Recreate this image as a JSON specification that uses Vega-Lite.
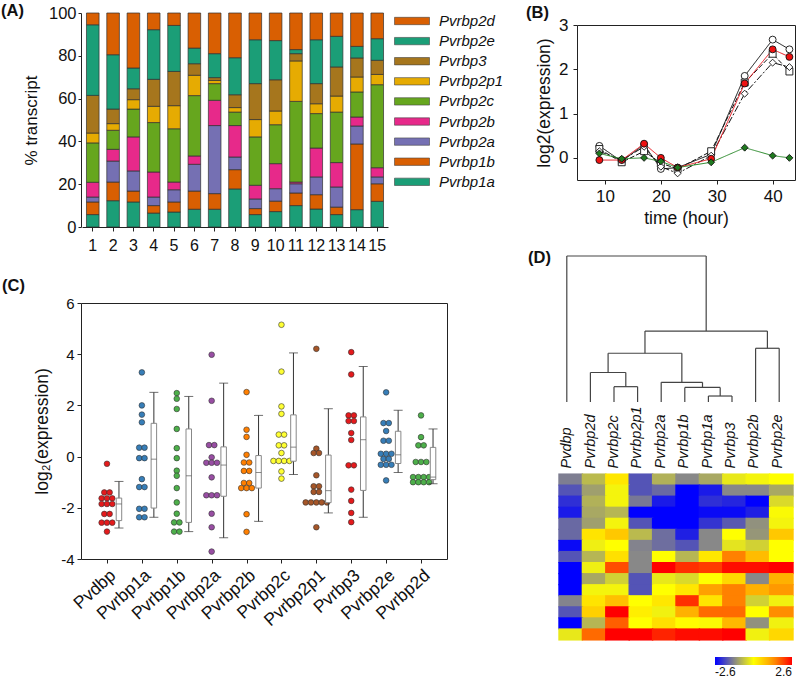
{
"$schema": "https://vega.github.io/schema/vega-lite/v6.json",
"width": 800, "height": 686, "autosize": {"type": "none"}, "padding": 0, "background": "white",
"datasets": {
"A": [
{"s":1,"g":"Pvrbp1a","p":5.8},{"s":1,"g":"Pvrbp1b","p":5.9},{"s":1,"g":"Pvrbp2a","p":2.3},{"s":1,"g":"Pvrbp2b","p":6.9},{"s":1,"g":"Pvrbp2c","p":18.4},{"s":1,"g":"Pvrbp2p1","p":4.6},{"s":1,"g":"Pvrbp3","p":17.6},{"s":1,"g":"Pvrbp2e","p":33.0},{"s":1,"g":"Pvrbp2d","p":5.5},
{"s":2,"g":"Pvrbp1a","p":12.3},{"s":2,"g":"Pvrbp1b","p":8.7},{"s":2,"g":"Pvrbp2a","p":9.8},{"s":2,"g":"Pvrbp2b","p":5.5},{"s":2,"g":"Pvrbp2c","p":8.9},{"s":2,"g":"Pvrbp2p1","p":3.1},{"s":2,"g":"Pvrbp3","p":6.8},{"s":2,"g":"Pvrbp2e","p":25.4},{"s":2,"g":"Pvrbp2d","p":19.5},
{"s":3,"g":"Pvrbp1a","p":11.7},{"s":3,"g":"Pvrbp1b","p":5.1},{"s":3,"g":"Pvrbp2a","p":9.4},{"s":3,"g":"Pvrbp2b","p":15.9},{"s":3,"g":"Pvrbp2c","p":13.0},{"s":3,"g":"Pvrbp2p1","p":4.4},{"s":3,"g":"Pvrbp3","p":5.1},{"s":3,"g":"Pvrbp2e","p":9.7},{"s":3,"g":"Pvrbp2d","p":25.7},
{"s":4,"g":"Pvrbp1a","p":6.5},{"s":4,"g":"Pvrbp1b","p":3.5},{"s":4,"g":"Pvrbp2a","p":4.0},{"s":4,"g":"Pvrbp2b","p":11.7},{"s":4,"g":"Pvrbp2c","p":23.1},{"s":4,"g":"Pvrbp2p1","p":7.6},{"s":4,"g":"Pvrbp3","p":12.6},{"s":4,"g":"Pvrbp2e","p":23.2},{"s":4,"g":"Pvrbp2d","p":7.8},
{"s":5,"g":"Pvrbp1a","p":7.0},{"s":5,"g":"Pvrbp1b","p":4.7},{"s":5,"g":"Pvrbp2a","p":5.7},{"s":5,"g":"Pvrbp2b","p":3.6},{"s":5,"g":"Pvrbp2c","p":24.9},{"s":5,"g":"Pvrbp2p1","p":10.8},{"s":5,"g":"Pvrbp3","p":16.0},{"s":5,"g":"Pvrbp2e","p":21.5},{"s":5,"g":"Pvrbp2d","p":5.8},
{"s":6,"g":"Pvrbp1a","p":8.3},{"s":6,"g":"Pvrbp1b","p":8.5},{"s":6,"g":"Pvrbp2a","p":12.5},{"s":6,"g":"Pvrbp2b","p":3.9},{"s":6,"g":"Pvrbp2c","p":28.2},{"s":6,"g":"Pvrbp2p1","p":9.5},{"s":6,"g":"Pvrbp3","p":5.4},{"s":6,"g":"Pvrbp2e","p":7.3},{"s":6,"g":"Pvrbp2d","p":16.4},
{"s":7,"g":"Pvrbp1a","p":8.3},{"s":7,"g":"Pvrbp1b","p":7.3},{"s":7,"g":"Pvrbp2a","p":31.8},{"s":7,"g":"Pvrbp2b","p":11.8},{"s":7,"g":"Pvrbp2c","p":7.8},{"s":7,"g":"Pvrbp2p1","p":1.5},{"s":7,"g":"Pvrbp3","p":1.3},{"s":7,"g":"Pvrbp2e","p":11.2},{"s":7,"g":"Pvrbp2d","p":19.0},
{"s":8,"g":"Pvrbp1a","p":17.8},{"s":8,"g":"Pvrbp1b","p":9.0},{"s":8,"g":"Pvrbp2a","p":5.9},{"s":8,"g":"Pvrbp2b","p":14.7},{"s":8,"g":"Pvrbp2c","p":6.3},{"s":8,"g":"Pvrbp2p1","p":2.1},{"s":8,"g":"Pvrbp3","p":6.0},{"s":8,"g":"Pvrbp2e","p":17.3},{"s":8,"g":"Pvrbp2d","p":20.9},
{"s":9,"g":"Pvrbp1a","p":5.8},{"s":9,"g":"Pvrbp1b","p":2.8},{"s":9,"g":"Pvrbp2a","p":4.5},{"s":9,"g":"Pvrbp2b","p":6.4},{"s":9,"g":"Pvrbp2c","p":22.6},{"s":9,"g":"Pvrbp2p1","p":8.1},{"s":9,"g":"Pvrbp3","p":16.8},{"s":9,"g":"Pvrbp2e","p":20.5},{"s":9,"g":"Pvrbp2d","p":12.5},
{"s":10,"g":"Pvrbp1a","p":7.2},{"s":10,"g":"Pvrbp1b","p":4.9},{"s":10,"g":"Pvrbp2a","p":5.8},{"s":10,"g":"Pvrbp2b","p":11.7},{"s":10,"g":"Pvrbp2c","p":18.2},{"s":10,"g":"Pvrbp2p1","p":6.4},{"s":10,"g":"Pvrbp3","p":14.6},{"s":10,"g":"Pvrbp2e","p":18.3},{"s":10,"g":"Pvrbp2d","p":12.9},
{"s":11,"g":"Pvrbp1a","p":10.0},{"s":11,"g":"Pvrbp1b","p":5.9},{"s":11,"g":"Pvrbp2a","p":4.3},{"s":11,"g":"Pvrbp2b","p":0.8},{"s":11,"g":"Pvrbp2c","p":37.7},{"s":11,"g":"Pvrbp2p1","p":18.9},{"s":11,"g":"Pvrbp3","p":3.4},{"s":11,"g":"Pvrbp2e","p":1.9},{"s":11,"g":"Pvrbp2d","p":17.1},
{"s":12,"g":"Pvrbp1a","p":8.4},{"s":12,"g":"Pvrbp1b","p":6.7},{"s":12,"g":"Pvrbp2a","p":8.3},{"s":12,"g":"Pvrbp2b","p":13.5},{"s":12,"g":"Pvrbp2c","p":16.1},{"s":12,"g":"Pvrbp2p1","p":4.6},{"s":12,"g":"Pvrbp3","p":9.4},{"s":12,"g":"Pvrbp2e","p":20.5},{"s":12,"g":"Pvrbp2d","p":12.5},
{"s":13,"g":"Pvrbp1a","p":5.8},{"s":13,"g":"Pvrbp1b","p":3.5},{"s":13,"g":"Pvrbp2a","p":9.4},{"s":13,"g":"Pvrbp2b","p":11.4},{"s":13,"g":"Pvrbp2c","p":23.6},{"s":13,"g":"Pvrbp2p1","p":7.5},{"s":13,"g":"Pvrbp3","p":13.6},{"s":13,"g":"Pvrbp2e","p":14.3},{"s":13,"g":"Pvrbp2d","p":10.9},
{"s":14,"g":"Pvrbp1a","p":8.1},{"s":14,"g":"Pvrbp1b","p":30.7},{"s":14,"g":"Pvrbp2a","p":8.4},{"s":14,"g":"Pvrbp2b","p":4.2},{"s":14,"g":"Pvrbp2c","p":11.7},{"s":14,"g":"Pvrbp2p1","p":7.0},{"s":14,"g":"Pvrbp3","p":8.9},{"s":14,"g":"Pvrbp2e","p":5.4},{"s":14,"g":"Pvrbp2d","p":15.6},
{"s":15,"g":"Pvrbp1a","p":12.0},{"s":15,"g":"Pvrbp1b","p":8.2},{"s":15,"g":"Pvrbp2a","p":3.2},{"s":15,"g":"Pvrbp2b","p":4.3},{"s":15,"g":"Pvrbp2c","p":38.8},{"s":15,"g":"Pvrbp2p1","p":4.8},{"s":15,"g":"Pvrbp3","p":6.6},{"s":15,"g":"Pvrbp2e","p":10.1},{"s":15,"g":"Pvrbp2d","p":12.0}
],
"B": [
{"s":"s1","t":9,"v":0.27},{"s":"s1","t":13,"v":-0.08},{"s":"s1","t":17,"v":0.30},{"s":"s1","t":20,"v":-0.25},{"s":"s1","t":23,"v":-0.22},{"s":"s1","t":29,"v":0.08},{"s":"s1","t":35,"v":1.85},{"s":"s1","t":40,"v":2.67},{"s":"s1","t":43,"v":2.45},
{"s":"s2","t":9,"v":0.20},{"s":"s2","t":13,"v":-0.10},{"s":"s2","t":17,"v":0.15},{"s":"s2","t":20,"v":-0.12},{"s":"s2","t":23,"v":-0.25},{"s":"s2","t":29,"v":0.15},{"s":"s2","t":35,"v":1.70},{"s":"s2","t":40,"v":2.35},{"s":"s2","t":43,"v":1.95},
{"s":"s3","t":9,"v":0.15},{"s":"s3","t":13,"v":-0.05},{"s":"s3","t":17,"v":0.25},{"s":"s3","t":20,"v":-0.20},{"s":"s3","t":23,"v":-0.35},{"s":"s3","t":29,"v":0.05},{"s":"s3","t":35,"v":1.45},{"s":"s3","t":40,"v":2.15},{"s":"s3","t":43,"v":2.05},
{"s":"s4","t":9,"v":-0.05},{"s":"s4","t":13,"v":-0.05},{"s":"s4","t":17,"v":0.32},{"s":"s4","t":20,"v":0.00},{"s":"s4","t":23,"v":-0.22},{"s":"s4","t":29,"v":-0.02},{"s":"s4","t":35,"v":1.68},{"s":"s4","t":40,"v":2.45},{"s":"s4","t":43,"v":2.28},
{"s":"s5","t":9,"v":0.10},{"s":"s5","t":13,"v":-0.02},{"s":"s5","t":17,"v":0.00},{"s":"s5","t":20,"v":-0.08},{"s":"s5","t":23,"v":-0.22},{"s":"s5","t":29,"v":-0.10},{"s":"s5","t":35,"v":0.23},{"s":"s5","t":40,"v":0.05},{"s":"s5","t":43,"v":0.00}
],
"Cdots": [
{"g":"Pvdbp","v":-0.28},{"g":"Pvdbp","v":-1.4},{"g":"Pvdbp","v":-1.4},{"g":"Pvdbp","v":-1.63},{"g":"Pvdbp","v":-1.63},{"g":"Pvdbp","v":-1.63},{"g":"Pvdbp","v":-1.85},{"g":"Pvdbp","v":-1.85},{"g":"Pvdbp","v":-1.85},{"g":"Pvdbp","v":-2.24},{"g":"Pvdbp","v":-2.24},{"g":"Pvdbp","v":-2.58},{"g":"Pvdbp","v":-2.58},{"g":"Pvdbp","v":-2.58},{"g":"Pvdbp","v":-2.93},
{"g":"Pvrbp1a","v":3.29},{"g":"Pvrbp1a","v":2.0},{"g":"Pvrbp1a","v":1.64},{"g":"Pvrbp1a","v":1.34},{"g":"Pvrbp1a","v":0.35},{"g":"Pvrbp1a","v":0.35},{"g":"Pvrbp1a","v":-0.06},{"g":"Pvrbp1a","v":-0.06},{"g":"Pvrbp1a","v":-0.88},{"g":"Pvrbp1a","v":-1.19},{"g":"Pvrbp1a","v":-1.19},{"g":"Pvrbp1a","v":-2.04},{"g":"Pvrbp1a","v":-2.04},{"g":"Pvrbp1a","v":-2.37},{"g":"Pvrbp1a","v":-2.37},
{"g":"Pvrbp1b","v":2.48},{"g":"Pvrbp1b","v":2.26},{"g":"Pvrbp1b","v":1.86},{"g":"Pvrbp1b","v":1.08},{"g":"Pvrbp1b","v":0.33},{"g":"Pvrbp1b","v":-0.06},{"g":"Pvrbp1b","v":-0.55},{"g":"Pvrbp1b","v":-0.75},{"g":"Pvrbp1b","v":-1.23},{"g":"Pvrbp1b","v":-1.79},{"g":"Pvrbp1b","v":-2.23},{"g":"Pvrbp1b","v":-2.57},{"g":"Pvrbp1b","v":-2.57},{"g":"Pvrbp1b","v":-2.93},{"g":"Pvrbp1b","v":-2.93},
{"g":"Pvrbp2a","v":3.98},{"g":"Pvrbp2a","v":2.18},{"g":"Pvrbp2a","v":0.45},{"g":"Pvrbp2a","v":0.45},{"g":"Pvrbp2a","v":-0.03},{"g":"Pvrbp2a","v":-0.24},{"g":"Pvrbp2a","v":-0.24},{"g":"Pvrbp2a","v":-0.24},{"g":"Pvrbp2a","v":-0.81},{"g":"Pvrbp2a","v":-1.51},{"g":"Pvrbp2a","v":-1.51},{"g":"Pvrbp2a","v":-1.51},{"g":"Pvrbp2a","v":-2.23},{"g":"Pvrbp2a","v":-2.76},{"g":"Pvrbp2a","v":-3.71},
{"g":"Pvrbp2b","v":2.52},{"g":"Pvrbp2b","v":1.05},{"g":"Pvrbp2b","v":0.77},{"g":"Pvrbp2b","v":0.07},{"g":"Pvrbp2b","v":-0.23},{"g":"Pvrbp2b","v":-0.23},{"g":"Pvrbp2b","v":-0.56},{"g":"Pvrbp2b","v":-0.56},{"g":"Pvrbp2b","v":-1.03},{"g":"Pvrbp2b","v":-1.03},{"g":"Pvrbp2b","v":-1.23},{"g":"Pvrbp2b","v":-1.23},{"g":"Pvrbp2b","v":-1.23},{"g":"Pvrbp2b","v":-2.25},{"g":"Pvrbp2b","v":-2.94},
{"g":"Pvrbp2c","v":5.15},{"g":"Pvrbp2c","v":3.32},{"g":"Pvrbp2c","v":1.96},{"g":"Pvrbp2c","v":1.67},{"g":"Pvrbp2c","v":0.86},{"g":"Pvrbp2c","v":0.86},{"g":"Pvrbp2c","v":0.44},{"g":"Pvrbp2c","v":0.44},{"g":"Pvrbp2c","v":0.14},{"g":"Pvrbp2c","v":-0.17},{"g":"Pvrbp2c","v":-0.17},{"g":"Pvrbp2c","v":-0.17},{"g":"Pvrbp2c","v":-0.17},{"g":"Pvrbp2c","v":-0.58},{"g":"Pvrbp2c","v":-0.86},
{"g":"Pvrbp2p1","v":4.21},{"g":"Pvrbp2p1","v":0.31},{"g":"Pvrbp2p1","v":0.14},{"g":"Pvrbp2p1","v":0.14},{"g":"Pvrbp2p1","v":-0.73},{"g":"Pvrbp2p1","v":-1.16},{"g":"Pvrbp2p1","v":-1.16},{"g":"Pvrbp2p1","v":-1.38},{"g":"Pvrbp2p1","v":-1.38},{"g":"Pvrbp2p1","v":-1.79},{"g":"Pvrbp2p1","v":-1.79},{"g":"Pvrbp2p1","v":-1.79},{"g":"Pvrbp2p1","v":-1.79},{"g":"Pvrbp2p1","v":-1.79},{"g":"Pvrbp2p1","v":-2.76},
{"g":"Pvrbp3","v":4.08},{"g":"Pvrbp3","v":3.21},{"g":"Pvrbp3","v":1.61},{"g":"Pvrbp3","v":1.61},{"g":"Pvrbp3","v":1.39},{"g":"Pvrbp3","v":1.39},{"g":"Pvrbp3","v":0.92},{"g":"Pvrbp3","v":0.65},{"g":"Pvrbp3","v":-0.34},{"g":"Pvrbp3","v":-0.34},{"g":"Pvrbp3","v":-1.29},{"g":"Pvrbp3","v":-1.73},{"g":"Pvrbp3","v":-2.2},{"g":"Pvrbp3","v":-2.56},
{"g":"Pvrbp2e","v":2.51},{"g":"Pvrbp2e","v":1.31},{"g":"Pvrbp2e","v":1.31},{"g":"Pvrbp2e","v":1.0},{"g":"Pvrbp2e","v":0.62},{"g":"Pvrbp2e","v":0.62},{"g":"Pvrbp2e","v":0.11},{"g":"Pvrbp2e","v":0.11},{"g":"Pvrbp2e","v":0.11},{"g":"Pvrbp2e","v":-0.09},{"g":"Pvrbp2e","v":-0.09},{"g":"Pvrbp2e","v":-0.32},{"g":"Pvrbp2e","v":-0.32},{"g":"Pvrbp2e","v":-0.32},{"g":"Pvrbp2e","v":-0.93},
{"g":"Pvrbp2d","v":1.61},{"g":"Pvrbp2d","v":0.76},{"g":"Pvrbp2d","v":0.44},{"g":"Pvrbp2d","v":0.44},{"g":"Pvrbp2d","v":-0.21},{"g":"Pvrbp2d","v":-0.21},{"g":"Pvrbp2d","v":-0.21},{"g":"Pvrbp2d","v":-0.8},{"g":"Pvrbp2d","v":-0.8},{"g":"Pvrbp2d","v":-0.8},{"g":"Pvrbp2d","v":-0.8},{"g":"Pvrbp2d","v":-1.0},{"g":"Pvrbp2d","v":-1.0},{"g":"Pvrbp2d","v":-1.0},{"g":"Pvrbp2d","v":-1.0}
],
"Cbox": [
{"g":"Pvdbp","lo":-2.79,"q1":-2.5,"med":-1.85,"q3":-1.62,"hi":-0.97},
{"g":"Pvrbp1a","lo":-2.37,"q1":-2.01,"med":-0.10,"q3":1.30,"hi":2.51},
{"g":"Pvrbp1b","lo":-2.93,"q1":-2.57,"med":-0.75,"q3":1.08,"hi":2.35},
{"g":"Pvrbp2a","lo":-3.17,"q1":-1.55,"med":-0.33,"q3":0.38,"hi":2.87},
{"g":"Pvrbp2b","lo":-2.53,"q1":-1.23,"med":-0.62,"q3":0.04,"hi":1.61},
{"g":"Pvrbp2c","lo":-0.70,"q1":-0.18,"med":0.37,"q3":1.63,"hi":4.05},
{"g":"Pvrbp2p1","lo":-2.2,"q1":-1.8,"med":-1.33,"q3":0.06,"hi":1.87},
{"g":"Pvrbp3","lo":-2.37,"q1":-1.32,"med":0.66,"q3":1.55,"hi":3.52},
{"g":"Pvrbp2e","lo":-0.62,"q1":-0.27,"med":0.07,"q3":0.99,"hi":1.81},
{"g":"Pvrbp2d","lo":-1.06,"q1":-0.9,"med":-0.8,"q3":0.36,"hi":1.08}
],
"dend": [
{"n":"H","xl":6,"xr":7,"h":0.041,"hl":0,"hr":0},
{"n":"G","xl":5,"xr":6.5,"h":0.10,"hl":0,"hr":0.041},
{"n":"F","xl":4,"xr":5.75,"h":0.135,"hl":0,"hr":0.10},
{"n":"E","xl":2,"xr":3,"h":0.105,"hl":0,"hr":0},
{"n":"D","xl":1,"xr":2.5,"h":0.202,"hl":0,"hr":0.105},
{"n":"C","xl":1.75,"xr":4.875,"h":0.334,"hl":0.202,"hr":0.135},
{"n":"B","xl":8,"xr":9,"h":0.368,"hl":0,"hr":0},
{"n":"A","xl":3.3125,"xr":8.5,"h":0.486,"hl":0.334,"hr":0.368},
{"n":"R","xl":0,"xr":5.906,"h":1.0,"hl":0,"hr":0.486}
],
"heat": [
{"r":1,"g":"Pvdbp","v":-1.4},{"r":1,"g":"Pvrbp2d","v":-0.75},{"r":1,"g":"Pvrbp2c","v":0.3},{"r":1,"g":"Pvrbp2p1","v":-1.8},{"r":1,"g":"Pvrbp2a","v":-0.85},{"r":1,"g":"Pvrbp1b","v":-1.3},{"r":1,"g":"Pvrbp1a","v":-0.95},{"r":1,"g":"Pvrbp3","v":-0.25},{"r":1,"g":"Pvrbp2b","v":-0.12},{"r":1,"g":"Pvrbp2e","v":0.0},
{"r":2,"g":"Pvdbp","v":-1.8},{"r":2,"g":"Pvrbp2d","v":-1.05},{"r":2,"g":"Pvrbp2c","v":-0.12},{"r":2,"g":"Pvrbp2p1","v":-1.8},{"r":2,"g":"Pvrbp2a","v":-1.6},{"r":2,"g":"Pvrbp1b","v":-2.6},{"r":2,"g":"Pvrbp1a","v":-2.35},{"r":2,"g":"Pvrbp3","v":-1.3},{"r":2,"g":"Pvrbp2b","v":-1.3},{"r":2,"g":"Pvrbp2e","v":-0.95},
{"r":3,"g":"Pvdbp","v":-2.15},{"r":3,"g":"Pvrbp2d","v":-0.85},{"r":3,"g":"Pvrbp2c","v":-0.12},{"r":3,"g":"Pvrbp2p1","v":-1.45},{"r":3,"g":"Pvrbp2a","v":-2.35},{"r":3,"g":"Pvrbp1b","v":-2.6},{"r":3,"g":"Pvrbp1a","v":-2.15},{"r":3,"g":"Pvrbp3","v":-2.25},{"r":3,"g":"Pvrbp2b","v":-2.6},{"r":3,"g":"Pvrbp2e","v":-0.4},
{"r":4,"g":"Pvdbp","v":-2.35},{"r":4,"g":"Pvrbp2d","v":-0.95},{"r":4,"g":"Pvrbp2c","v":-0.8},{"r":4,"g":"Pvrbp2p1","v":-2.6},{"r":4,"g":"Pvrbp2a","v":-2.6},{"r":4,"g":"Pvrbp1b","v":-2.6},{"r":4,"g":"Pvrbp1a","v":-2.5},{"r":4,"g":"Pvrbp3","v":-2.5},{"r":4,"g":"Pvrbp2b","v":-2.3},{"r":4,"g":"Pvrbp2e","v":-0.05},
{"r":5,"g":"Pvdbp","v":-1.6},{"r":5,"g":"Pvrbp2d","v":-1.05},{"r":5,"g":"Pvrbp2c","v":-0.12},{"r":5,"g":"Pvrbp2p1","v":-1.8},{"r":5,"g":"Pvrbp2a","v":-2.6},{"r":5,"g":"Pvrbp1b","v":-2.6},{"r":5,"g":"Pvrbp1a","v":-2.1},{"r":5,"g":"Pvrbp3","v":-1.75},{"r":5,"g":"Pvrbp2b","v":-1.2},{"r":5,"g":"Pvrbp2e","v":-0.12},
{"r":6,"g":"Pvdbp","v":-1.6},{"r":6,"g":"Pvrbp2d","v":0.35},{"r":6,"g":"Pvrbp2c","v":0.7},{"r":6,"g":"Pvrbp2p1","v":-0.75},{"r":6,"g":"Pvrbp2a","v":-1.55},{"r":6,"g":"Pvrbp1b","v":-2.3},{"r":6,"g":"Pvrbp1a","v":-1.3},{"r":6,"g":"Pvrbp3","v":0.0},{"r":6,"g":"Pvrbp2b","v":-1.15},{"r":6,"g":"Pvrbp2e","v":0.7},
{"r":7,"g":"Pvdbp","v":-2.5},{"r":7,"g":"Pvrbp2d","v":-0.18},{"r":7,"g":"Pvrbp2c","v":0.0},{"r":7,"g":"Pvrbp2p1","v":-1.35},{"r":7,"g":"Pvrbp2a","v":-1.55},{"r":7,"g":"Pvrbp1b","v":-1.8},{"r":7,"g":"Pvrbp1a","v":-1.3},{"r":7,"g":"Pvrbp3","v":-0.3},{"r":7,"g":"Pvrbp2b","v":-0.5},{"r":7,"g":"Pvrbp2e","v":0.0},
{"r":8,"g":"Pvdbp","v":-1.8},{"r":8,"g":"Pvrbp2d","v":-0.8},{"r":8,"g":"Pvrbp2c","v":0.4},{"r":8,"g":"Pvrbp2p1","v":-1.3},{"r":8,"g":"Pvrbp2a","v":0.0},{"r":8,"g":"Pvrbp1b","v":-0.8},{"r":8,"g":"Pvrbp1a","v":0.3},{"r":8,"g":"Pvrbp3","v":1.5},{"r":8,"g":"Pvrbp2b","v":0.85},{"r":8,"g":"Pvrbp2e","v":0.0},
{"r":9,"g":"Pvdbp","v":-2.6},{"r":9,"g":"Pvrbp2d","v":-0.18},{"r":9,"g":"Pvrbp2c","v":1.95},{"r":9,"g":"Pvrbp2p1","v":-1.3},{"r":9,"g":"Pvrbp2a","v":2.6},{"r":9,"g":"Pvrbp1b","v":2.2},{"r":9,"g":"Pvrbp1a","v":2.1},{"r":9,"g":"Pvrbp3","v":2.5},{"r":9,"g":"Pvrbp2b","v":2.5},{"r":9,"g":"Pvrbp2e","v":2.6},
{"r":10,"g":"Pvdbp","v":-2.6},{"r":10,"g":"Pvrbp2d","v":-0.95},{"r":10,"g":"Pvrbp2c","v":-0.5},{"r":10,"g":"Pvrbp2p1","v":-1.8},{"r":10,"g":"Pvrbp2a","v":-0.25},{"r":10,"g":"Pvrbp1b","v":-0.4},{"r":10,"g":"Pvrbp1a","v":0.0},{"r":10,"g":"Pvrbp3","v":0.5},{"r":10,"g":"Pvrbp2b","v":-1.3},{"r":10,"g":"Pvrbp2e","v":1.0},
{"r":11,"g":"Pvdbp","v":-2.6},{"r":11,"g":"Pvrbp2d","v":-0.12},{"r":11,"g":"Pvrbp2c","v":-0.12},{"r":11,"g":"Pvrbp2p1","v":-1.8},{"r":11,"g":"Pvrbp2a","v":0.0},{"r":11,"g":"Pvrbp1b","v":0.3},{"r":11,"g":"Pvrbp1a","v":1.2},{"r":11,"g":"Pvrbp3","v":1.5},{"r":11,"g":"Pvrbp2b","v":1.0},{"r":11,"g":"Pvrbp2e","v":1.3},
{"r":12,"g":"Pvdbp","v":-1.35},{"r":12,"g":"Pvrbp2d","v":0.35},{"r":12,"g":"Pvrbp2c","v":0.8},{"r":12,"g":"Pvrbp2p1","v":0.0},{"r":12,"g":"Pvrbp2a","v":0.3},{"r":12,"g":"Pvrbp1b","v":2.2},{"r":12,"g":"Pvrbp1a","v":0.35},{"r":12,"g":"Pvrbp3","v":1.5},{"r":12,"g":"Pvrbp2b","v":-0.5},{"r":12,"g":"Pvrbp2e","v":-0.15},
{"r":13,"g":"Pvdbp","v":-1.8},{"r":13,"g":"Pvrbp2d","v":0.6},{"r":13,"g":"Pvrbp2c","v":2.6},{"r":13,"g":"Pvrbp2p1","v":0.2},{"r":13,"g":"Pvrbp2a","v":-0.15},{"r":13,"g":"Pvrbp1b","v":1.0},{"r":13,"g":"Pvrbp1a","v":1.7},{"r":13,"g":"Pvrbp3","v":1.7},{"r":13,"g":"Pvrbp2b","v":0.0},{"r":13,"g":"Pvrbp2e","v":1.4},
{"r":14,"g":"Pvdbp","v":-2.6},{"r":14,"g":"Pvrbp2d","v":-0.8},{"r":14,"g":"Pvrbp2c","v":1.8},{"r":14,"g":"Pvrbp2p1","v":0.0},{"r":14,"g":"Pvrbp2a","v":0.4},{"r":14,"g":"Pvrbp1b","v":0.05},{"r":14,"g":"Pvrbp1a","v":-0.05},{"r":14,"g":"Pvrbp3","v":0.9},{"r":14,"g":"Pvrbp2b","v":-1.2},{"r":14,"g":"Pvrbp2e","v":-0.15},
{"r":15,"g":"Pvdbp","v":-0.25},{"r":15,"g":"Pvrbp2d","v":1.7},{"r":15,"g":"Pvrbp2c","v":2.6},{"r":15,"g":"Pvrbp2p1","v":2.6},{"r":15,"g":"Pvrbp2a","v":2.3},{"r":15,"g":"Pvrbp1b","v":2.5},{"r":15,"g":"Pvrbp1a","v":2.5},{"r":15,"g":"Pvrbp3","v":2.6},{"r":15,"g":"Pvrbp2b","v":-0.15},{"r":15,"g":"Pvrbp2e","v":0.5}
]
},
"layer": [
{
"data": {"name": "A"},
"transform": [{"calculate": "indexof(['Pvrbp1a','Pvrbp1b','Pvrbp2a','Pvrbp2b','Pvrbp2c','Pvrbp2p1','Pvrbp3','Pvrbp2e','Pvrbp2d'], datum.g)", "as": "o"}],
"mark": {"type": "bar", "stroke": "#2f2f2f", "strokeWidth": 0.7},
"encoding": {
"x": {"field": "s", "type": "ordinal", "scale": {"range": [82, 388], "paddingInner": 0.38, "paddingOuter": 0.22},
 "axis": {"orient": "bottom", "offset": -459, "labelAngle": 0, "labelFontSize": 16, "tickSize": 4, "labelPadding": 6,
  "title": "(A)", "titleX": 12, "titleY": -217, "titleAngle": 0, "titleAlign": "center", "titleBaseline": "middle", "titleFontSize": 16.5, "titleFontWeight": "bold"}},
"y": {"field": "p", "type": "quantitative", "stack": "zero", "scale": {"domain": [0, 100], "range": [227, 13], "nice": false},
 "axis": {"orient": "left", "offset": -81, "values": [0, 20, 40, 60, 80, 100], "labelFontSize": 16.5, "tickSize": 3, "labelPadding": 2, "title": "% transcript", "titleFontSize": 17, "titlePadding": 8}},
"color": {"field": "g", "type": "nominal",
 "scale": {"domain": ["Pvrbp2d","Pvrbp2e","Pvrbp3","Pvrbp2p1","Pvrbp2c","Pvrbp2b","Pvrbp2a","Pvrbp1b","Pvrbp1a"],
  "range": ["#d95f02","#1b9e77","#a6761d","#e6ab02","#66a61e","#e7298a","#7570b3","#d95f02","#1b9e77"]},
 "legend": {"orient": "none", "legendX": 394, "legendY": 15, "title": null, "padding": 0,
  "symbolType": "M-1,-0.21H1V0.21H-1Z", "symbolSize": 1225, "symbolStrokeColor": "#444", "symbolStrokeWidth": 0.6, "symbolOpacity": 1,
  "labelFontSize": 15, "labelFontStyle": "italic", "labelOffset": 9, "clipHeight": 12, "rowPadding": 5.1}},
"order": {"field": "o", "type": "quantitative"}
}
},
{
"data": {"name": "B"},
"layer": [
{"mark": {"type": "line", "strokeWidth": 1},
 "encoding": {
 "x": {"field": "t", "type": "quantitative", "scale": {"domain": [5, 44], "range": [577, 795], "nice": false, "zero": false},
  "axis": {"orient": "bottom", "offset": -506, "values": [10, 20, 30, 40], "labelFontSize": 17, "tickSize": 4, "labelPadding": 4, "title": "time (hour)", "titleFontSize": 17.5, "titlePadding": 5}},
 "y": {"field": "v", "type": "quantitative", "scale": {"domain": [-0.5, 3], "range": [180, 25], "nice": false, "zero": false},
  "axis": {"orient": "left", "offset": -577, "values": [0, 1, 2, 3], "labelFontSize": 17, "tickSize": 4, "labelPadding": 5, "title": "log2(expression)", "titleFontSize": 17.5, "titlePadding": 5}},
 "stroke": {"field": "s", "type": "nominal", "scale": {"domain": ["s1","s2","s3","s4","s5"], "range": ["#111111","#111111","#111111","#e8141c","#2a8a2a"]}, "legend": null},
 "strokeDash": {"field": "s", "type": "nominal", "scale": {"domain": ["s1","s2","s3","s4","s5"], "range": [[1,0],[5,2],[7,2,2,2],[1,0],[1,0]]}, "legend": null}
 }},
{"mark": {"type": "point", "filled": true, "size": 48, "stroke": "#111", "strokeWidth": 0.9, "opacity": 1},
 "encoding": {
 "x": {"field": "t", "type": "quantitative", "scale": {"domain": [5, 44], "range": [577, 795], "nice": false, "zero": false},
  "axis": {"orient": "top", "offset": -25, "labels": false, "ticks": false, "title": "(B)", "titleX": 537, "titleY": -13, "titleAngle": 0, "titleAlign": "center", "titleBaseline": "middle", "titleFontSize": 16.5, "titleFontWeight": "bold"}},
 "y": {"field": "v", "type": "quantitative", "scale": {"domain": [-0.5, 3], "range": [180, 25], "nice": false, "zero": false},
  "axis": {"orient": "right", "offset": -5, "labels": false, "ticks": false, "title": null}},
 "shape": {"field": "s", "type": "nominal", "scale": {"domain": ["s1","s2","s3","s4","s5"], "range": ["circle","square","diamond","circle","diamond"]}, "legend": null},
 "fill": {"field": "s", "type": "nominal", "scale": {"domain": ["s1","s2","s3","s4","s5"], "range": ["#ffffff","#ffffff","#ffffff","#ee1111","#1f7a1f"]}, "legend": null}
 }}
],
"resolve": {"axis": {"x": "independent", "y": "independent"}}
},
{
"layer": [
{"data": {"name": "Cdots"},
 "transform": [
  {"window": [{"op": "row_number", "as": "k"}], "groupby": ["g", "v"]},
  {"joinaggregate": [{"op": "count", "as": "n"}], "groupby": ["g", "v"]},
  {"calculate": "datum.k - (datum.n + 1) / 2", "as": "slot"}
 ],
 "mark": {"type": "circle", "size": 32, "stroke": "#333", "strokeWidth": 0.6, "opacity": 1},
 "encoding": {
 "x": {"field": "g", "type": "nominal", "sort": ["Pvdbp","Pvrbp1a","Pvrbp1b","Pvrbp2a","Pvrbp2b","Pvrbp2c","Pvrbp2p1","Pvrbp3","Pvrbp2e","Pvrbp2d"],
  "scale": {"type": "point", "range": [81, 447], "padding": 0.744},
  "axis": {"orient": "bottom", "offset": -127, "labelAngle": -42, "labelFontSize": 17.5, "tickSize": 4, "labelPadding": 3, "labelOverlap": false, "labelBound": false,
   "title": "(C)", "titleX": 13, "titleY": -274, "titleAngle": 0, "titleAlign": "center", "titleBaseline": "middle", "titleFontSize": 16.5, "titleFontWeight": "bold"}},
 "xOffset": {"field": "slot", "type": "quantitative", "scale": {"domain": [-3, 3], "range": [-16, 16]}},
 "y": {"field": "v", "type": "quantitative", "scale": {"domain": [-4, 6], "range": [559, 303], "nice": false},
  "axis": {"orient": "left", "offset": -81, "values": [-4, -2, 0, 2, 4, 6], "labelFontSize": 15, "tickSize": 4, "labelPadding": 3, "title": "log₂(expression)", "titleFontSize": 17.5, "titlePadding": 9}},
 "color": {"field": "g", "type": "nominal",
  "scale": {"domain": ["Pvdbp","Pvrbp1a","Pvrbp1b","Pvrbp2a","Pvrbp2b","Pvrbp2c","Pvrbp2p1","Pvrbp3","Pvrbp2e","Pvrbp2d"],
   "range": ["#e41a1c","#377eb8","#4daf4a","#984ea3","#ff7f00","#ffff33","#a65628","#e41a1c","#377eb8","#4daf4a"]}, "legend": null}
 }},
{"data": {"name": "Cbox"},
 "mark": {"type": "rule", "color": "#333", "strokeWidth": 1, "xOffset": 12},
 "encoding": {
 "x": {"field": "g", "type": "nominal", "sort": ["Pvdbp","Pvrbp1a","Pvrbp1b","Pvrbp2a","Pvrbp2b","Pvrbp2c","Pvrbp2p1","Pvrbp3","Pvrbp2e","Pvrbp2d"],
  "axis": {"orient": "top", "offset": -303, "labels": false, "ticks": false, "title": null}},
 "y": {"field": "lo", "type": "quantitative", "scale": {"domain": [-4, 6], "range": [559, 303], "nice": false},
  "axis": {"orient": "right", "offset": -353, "labels": false, "ticks": false, "title": null}},
 "y2": {"field": "hi"}
 }},
{"data": {"name": "Cbox"},
 "mark": {"type": "tick", "size": 9, "thickness": 1, "color": "#333", "xOffset": 12},
 "encoding": {
 "x": {"field": "g", "type": "nominal", "sort": ["Pvdbp","Pvrbp1a","Pvrbp1b","Pvrbp2a","Pvrbp2b","Pvrbp2c","Pvrbp2p1","Pvrbp3","Pvrbp2e","Pvrbp2d"], "axis": null},
 "y": {"field": "lo", "type": "quantitative", "scale": {"domain": [-4, 6], "range": [559, 303], "nice": false}, "axis": null}
 }},
{"data": {"name": "Cbox"},
 "mark": {"type": "tick", "size": 9, "thickness": 1, "color": "#333", "xOffset": 12},
 "encoding": {
 "x": {"field": "g", "type": "nominal", "sort": ["Pvdbp","Pvrbp1a","Pvrbp1b","Pvrbp2a","Pvrbp2b","Pvrbp2c","Pvrbp2p1","Pvrbp3","Pvrbp2e","Pvrbp2d"], "axis": null},
 "y": {"field": "hi", "type": "quantitative", "scale": {"domain": [-4, 6], "range": [559, 303], "nice": false}, "axis": null}
 }},
{"data": {"name": "Cbox"},
 "mark": {"type": "bar", "width": 5.5, "fill": "#ffffff", "stroke": "#888", "strokeWidth": 1, "xOffset": 12},
 "encoding": {
 "x": {"field": "g", "type": "nominal", "sort": ["Pvdbp","Pvrbp1a","Pvrbp1b","Pvrbp2a","Pvrbp2b","Pvrbp2c","Pvrbp2p1","Pvrbp3","Pvrbp2e","Pvrbp2d"], "axis": null},
 "y": {"field": "q1", "type": "quantitative", "scale": {"domain": [-4, 6], "range": [559, 303], "nice": false}, "axis": null},
 "y2": {"field": "q3"}
 }},
{"data": {"name": "Cbox"},
 "mark": {"type": "tick", "size": 5.5, "thickness": 1, "color": "#555", "xOffset": 12},
 "encoding": {
 "x": {"field": "g", "type": "nominal", "sort": ["Pvdbp","Pvrbp1a","Pvrbp1b","Pvrbp2a","Pvrbp2b","Pvrbp2c","Pvrbp2p1","Pvrbp3","Pvrbp2e","Pvrbp2d"], "axis": null},
 "y": {"field": "med", "type": "quantitative", "scale": {"domain": [-4, 6], "range": [559, 303], "nice": false}, "axis": null}
 }}
],
"resolve": {"axis": {"x": "independent", "y": "independent"}}
},
{
"layer": [
{"data": {"name": "dend"},
 "layer": [
 {"mark": {"type": "rule", "color": "#444", "strokeWidth": 1.2},
  "encoding": {
  "x": {"field": "xl", "type": "quantitative", "scale": {"domain": [-0.5, 9.5], "range": [555, 791], "nice": false, "zero": false}, "axis": null},
  "x2": {"field": "xr"},
  "y": {"field": "h", "type": "quantitative", "scale": {"domain": [0, 1], "range": [402, 256], "nice": false}, "axis": null}
  }},
 {"mark": {"type": "rule", "color": "#444", "strokeWidth": 1.2},
  "encoding": {
  "x": {"field": "xl", "type": "quantitative", "scale": {"domain": [-0.5, 9.5], "range": [555, 791], "nice": false, "zero": false}, "axis": null},
  "y": {"field": "hl", "type": "quantitative", "scale": {"domain": [0, 1], "range": [402, 256], "nice": false}, "axis": null},
  "y2": {"field": "h"}
  }},
 {"mark": {"type": "rule", "color": "#444", "strokeWidth": 1.2},
  "encoding": {
  "x": {"field": "xr", "type": "quantitative", "scale": {"domain": [-0.5, 9.5], "range": [555, 791], "nice": false, "zero": false}, "axis": null},
  "y": {"field": "hr", "type": "quantitative", "scale": {"domain": [0, 1], "range": [402, 256], "nice": false}, "axis": null},
  "y2": {"field": "h"}
  }}
 ]},
{"data": {"name": "heat"},
 "mark": {"type": "rect", "width": {"band": 1.06}, "height": {"band": 1.1}},
 "encoding": {
 "x": {"field": "g", "type": "nominal", "sort": ["Pvdbp","Pvrbp2d","Pvrbp2c","Pvrbp2p1","Pvrbp2a","Pvrbp1b","Pvrbp1a","Pvrbp3","Pvrbp2b","Pvrbp2e"],
  "scale": {"type": "band", "range": [559, 793], "paddingInner": 0, "paddingOuter": 0},
  "axis": {"orient": "top", "offset": -471, "domain": false, "ticks": false, "labelAngle": -90, "labelPadding": 3, "labelFontSize": 14.5, "labelFontStyle": "italic", "labelOffset": -3.5, "labelOverlap": false, "labelBound": false,
   "title": "(D)", "titleX": 539, "titleY": -214, "titleAngle": 0, "titleAlign": "center", "titleBaseline": "middle", "titleFontSize": 16.5, "titleFontWeight": "bold"}},
 "y": {"field": "r", "type": "ordinal", "scale": {"type": "band", "range": [474, 640], "paddingInner": 0, "paddingOuter": 0}, "axis": null},
 "color": {"field": "v", "type": "quantitative",
  "scale": {"domain": [-2.6, -1.3, 0, 1.3, 2.6], "range": ["#0000ff", "#888888", "#ffff00", "#ff9900", "#ff0000"], "interpolate": "rgb"},
  "legend": {"orient": "none", "legendX": 715, "legendY": 657, "direction": "horizontal", "gradientLength": 77, "gradientThickness": 8, "title": null,
   "values": [-2.6, 2.6], "format": ".1f", "labelFontSize": 12, "labelOffset": 2, "labelAlign": "center", "gradientStrokeWidth": 0, "padding": 0}}
 }}
],
"resolve": {"scale": {"x": "independent", "y": "independent"}, "axis": {"x": "independent", "y": "independent"}}
}
],
"resolve": {
 "scale": {"x": "independent", "y": "independent", "color": "independent", "xOffset": "independent"},
 "axis": {"x": "independent", "y": "independent"},
 "legend": {"color": "independent"}
},
"config": {
 "view": {"stroke": null},
 "font": "Liberation Sans",
 "locale": {"number": {"decimal": ".", "thousands": ",", "grouping": [3], "currency": ["$", ""], "minus": "-"}},
 "axis": {"labelFont": "Liberation Sans", "titleFont": "Liberation Sans", "labelColor": "#111", "titleColor": "#111", "domainColor": "#222", "tickColor": "#222", "grid": false, "titleFontWeight": "normal"},
 "legend": {"labelFont": "Liberation Sans", "labelColor": "#111"}
}
}
